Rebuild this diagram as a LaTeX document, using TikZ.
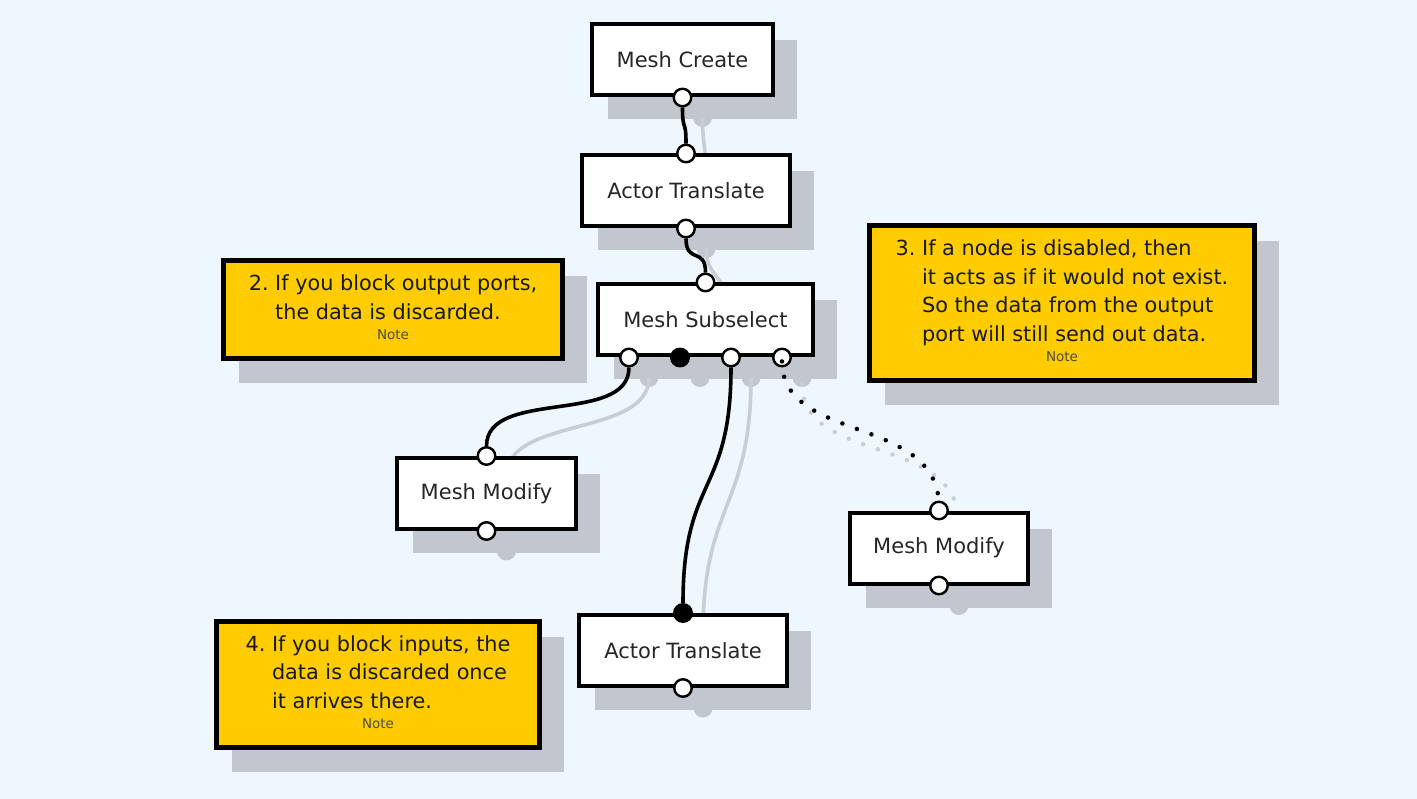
\documentclass[tikz,border=0pt]{standalone}
\usepackage{fontspec}
\setmainfont{DejaVu Sans}
\usetikzlibrary{positioning,calc}
\pgfdeclarelayer{paper}
\pgfdeclarelayer{shade}
\pgfsetlayers{paper,shade,main}
\definecolor{paperblue}{HTML}{EEF6FE}
\definecolor{shadowgray}{HTML}{C2C6CE}
\definecolor{wirelight}{HTML}{C9CED6}
\definecolor{noteyellow}{HTML}{FFCC00}
\newcommand{\boxfont}{\fontsize{21}{25}\selectfont}
\newcommand{\notefont}{\fontsize{20.8}{28.5}\selectfont}
\newcommand{\tagfont}{\fontsize{13.5}{15}\selectfont\color{black!70}}
\tikzset{
  box/.style={draw=black, line width=4pt, fill=white, minimum height=71pt,
    inner sep=0pt, text=black!85, font=\boxfont},
  note/.style={draw=black, line width=5pt, fill=noteyellow, inner sep=0pt,
    text=black!90, font=\notefont},
  port/.style={circle, draw=black, line width=2.4pt, fill=white,
    minimum size=17.5pt, inner sep=0pt},
  blocked/.style={port, fill=black},
  wire/.style={line width=3.6pt, black},
  ghost/.style={line width=3.6pt, wirelight},
  dotwire/.style={line width=4.5pt, line cap=round, dash pattern=on 0pt off 15.5pt}
}
\begin{document}
\begin{tikzpicture}[x=1pt,y=-1pt]
  \begin{pgfonlayer}{paper}
    \fill[paperblue] (0,0) rectangle (1417,799);
  \end{pgfonlayer}
  \useasboundingbox (0,0) rectangle (1417,799);

  % nodes
  \node[box, minimum width=181pt] (mc) at (682.5,60) {Mesh Create};
  \node[box, minimum width=208pt] (at1) at (686,191) {Actor Translate};
  \node[box, minimum width=215pt] (ms) at (705.5,320) {Mesh Subselect};
  \node[box, minimum width=179pt] (mm1) at (486.5,493.5) {Mesh Modify};
  \node[box, minimum width=178pt] (mm2) at (939,548) {Mesh Modify};
  \node[box, minimum width=208pt] (at2) at (683,650.5) {Actor Translate};

  % notes
  \node[note, minimum width=339pt, minimum height=98pt] (n2) at (393,309.5)
    {\begin{tabular}{@{}l@{\ }l@{}}2. & If you block output ports,\\ & the data is discarded.\\[-8pt]
     \multicolumn{2}{c}{\tagfont Note}\end{tabular}};
  \node[note, minimum width=385pt, minimum height=155pt] (n3) at (1062,303)
    {\begin{tabular}{@{}l@{\ }l@{}}3. & If a node is disabled, then\\ & it acts as if it would not exist.\\
     & So the data from the output\\ & port will still send out data.\\[-8pt]
     \multicolumn{2}{c}{\tagfont Note}\end{tabular}};
  \node[note, minimum width=323pt, minimum height=126pt] (n4) at (378,684.5)
    {\begin{tabular}{@{}l@{\ }l@{}}4. & If you block inputs, the\\ & data is discarded once\\
     & it arrives there.\\[-8pt]
     \multicolumn{2}{c}{\tagfont Note}\end{tabular}};

  % ports
  \node[port] (mc-o) at (mc.south) {};
  \node[port] (at1-i) at (at1.north) {};
  \node[port] (at1-o) at (at1.south) {};
  \node[port] (ms-i) at (ms.north) {};
  \node[port] (ms-o1) at ([xshift=-76.5pt]ms.south) {};
  \node[blocked] (ms-o2) at ([xshift=-25.5pt]ms.south) {};
  \node[port] (ms-o3) at ([xshift=25.5pt]ms.south) {};
  \node[port] (ms-o4) at ([xshift=76.5pt]ms.south) {};
  \node[port] (mm1-i) at (mm1.north) {};
  \node[port] (mm1-o) at (mm1.south) {};
  \node[port] (mm2-i) at (mm2.north) {};
  \node[port] (mm2-o) at (mm2.south) {};
  \node[blocked] (at2-i) at (at2.north) {};
  \node[port] (at2-o) at (at2.south) {};

  % shadows
  \begin{pgfonlayer}{shade}
    \foreach \n in {mc,at1,ms,mm1,mm2,at2,n2,n3,n4}
      \fill[shadowgray] ([shift={(18,18)}]\n.north west) rectangle ([shift={(22,22)}]\n.south east);
    \foreach \p in {mc-o,at1-o,ms-o1,ms-o2,ms-o3,ms-o4,mm1-o,mm2-o,at2-o}
      \fill[shadowgray] ([shift={(20,20)}]\p.center) circle (9.5pt);
    \draw[ghost] ([shift={(20,20)}]mc-o.center) .. controls +(0,28) and +(0,-28) .. ([shift={(20,20)}]at1-i.center);
    \draw[ghost] ([shift={(20,20)}]at1-o.center) .. controls +(0,28) and +(0,-28) .. ([shift={(20,20)}]ms-i.center);
    \draw[ghost] ([shift={(20,20)}]ms-o1.center) .. controls +(0,60) and +(0,-60) .. ([shift={(20,20)}]mm1-i.center);
    \draw[ghost] ([shift={(20,20)}]ms-o3.center) .. controls +(0,130) and +(0,-130) .. ([shift={(20,20)}]at2-i.center);
    \draw[wirelight, dotwire] ([shift={(20,26)}]ms-o4.center) .. controls +(0,82) and +(0,-92) .. ([shift={(20,14)}]mm2-i.center);
  \end{pgfonlayer}

  % wires
  \draw[wire] (mc-o.south) .. controls +(0,26) and +(0,-26) .. (at1-i.north);
  \draw[wire] (at1-o.south) .. controls +(0,26) and +(0,-26) .. (ms-i.north);
  \draw[wire] (ms-o1.south) .. controls +(0,58) and +(0,-58) .. (mm1-i.north);
  \draw[wire] (ms-o3.south) .. controls +(0,128) and +(0,-128) .. (at2-i.north);
  \draw[dotwire] ([yshift=6pt]ms-o4.south) .. controls +(0,82) and +(0,-92) .. ([yshift=-6pt]mm2-i.north);
\end{tikzpicture}
\end{document}
